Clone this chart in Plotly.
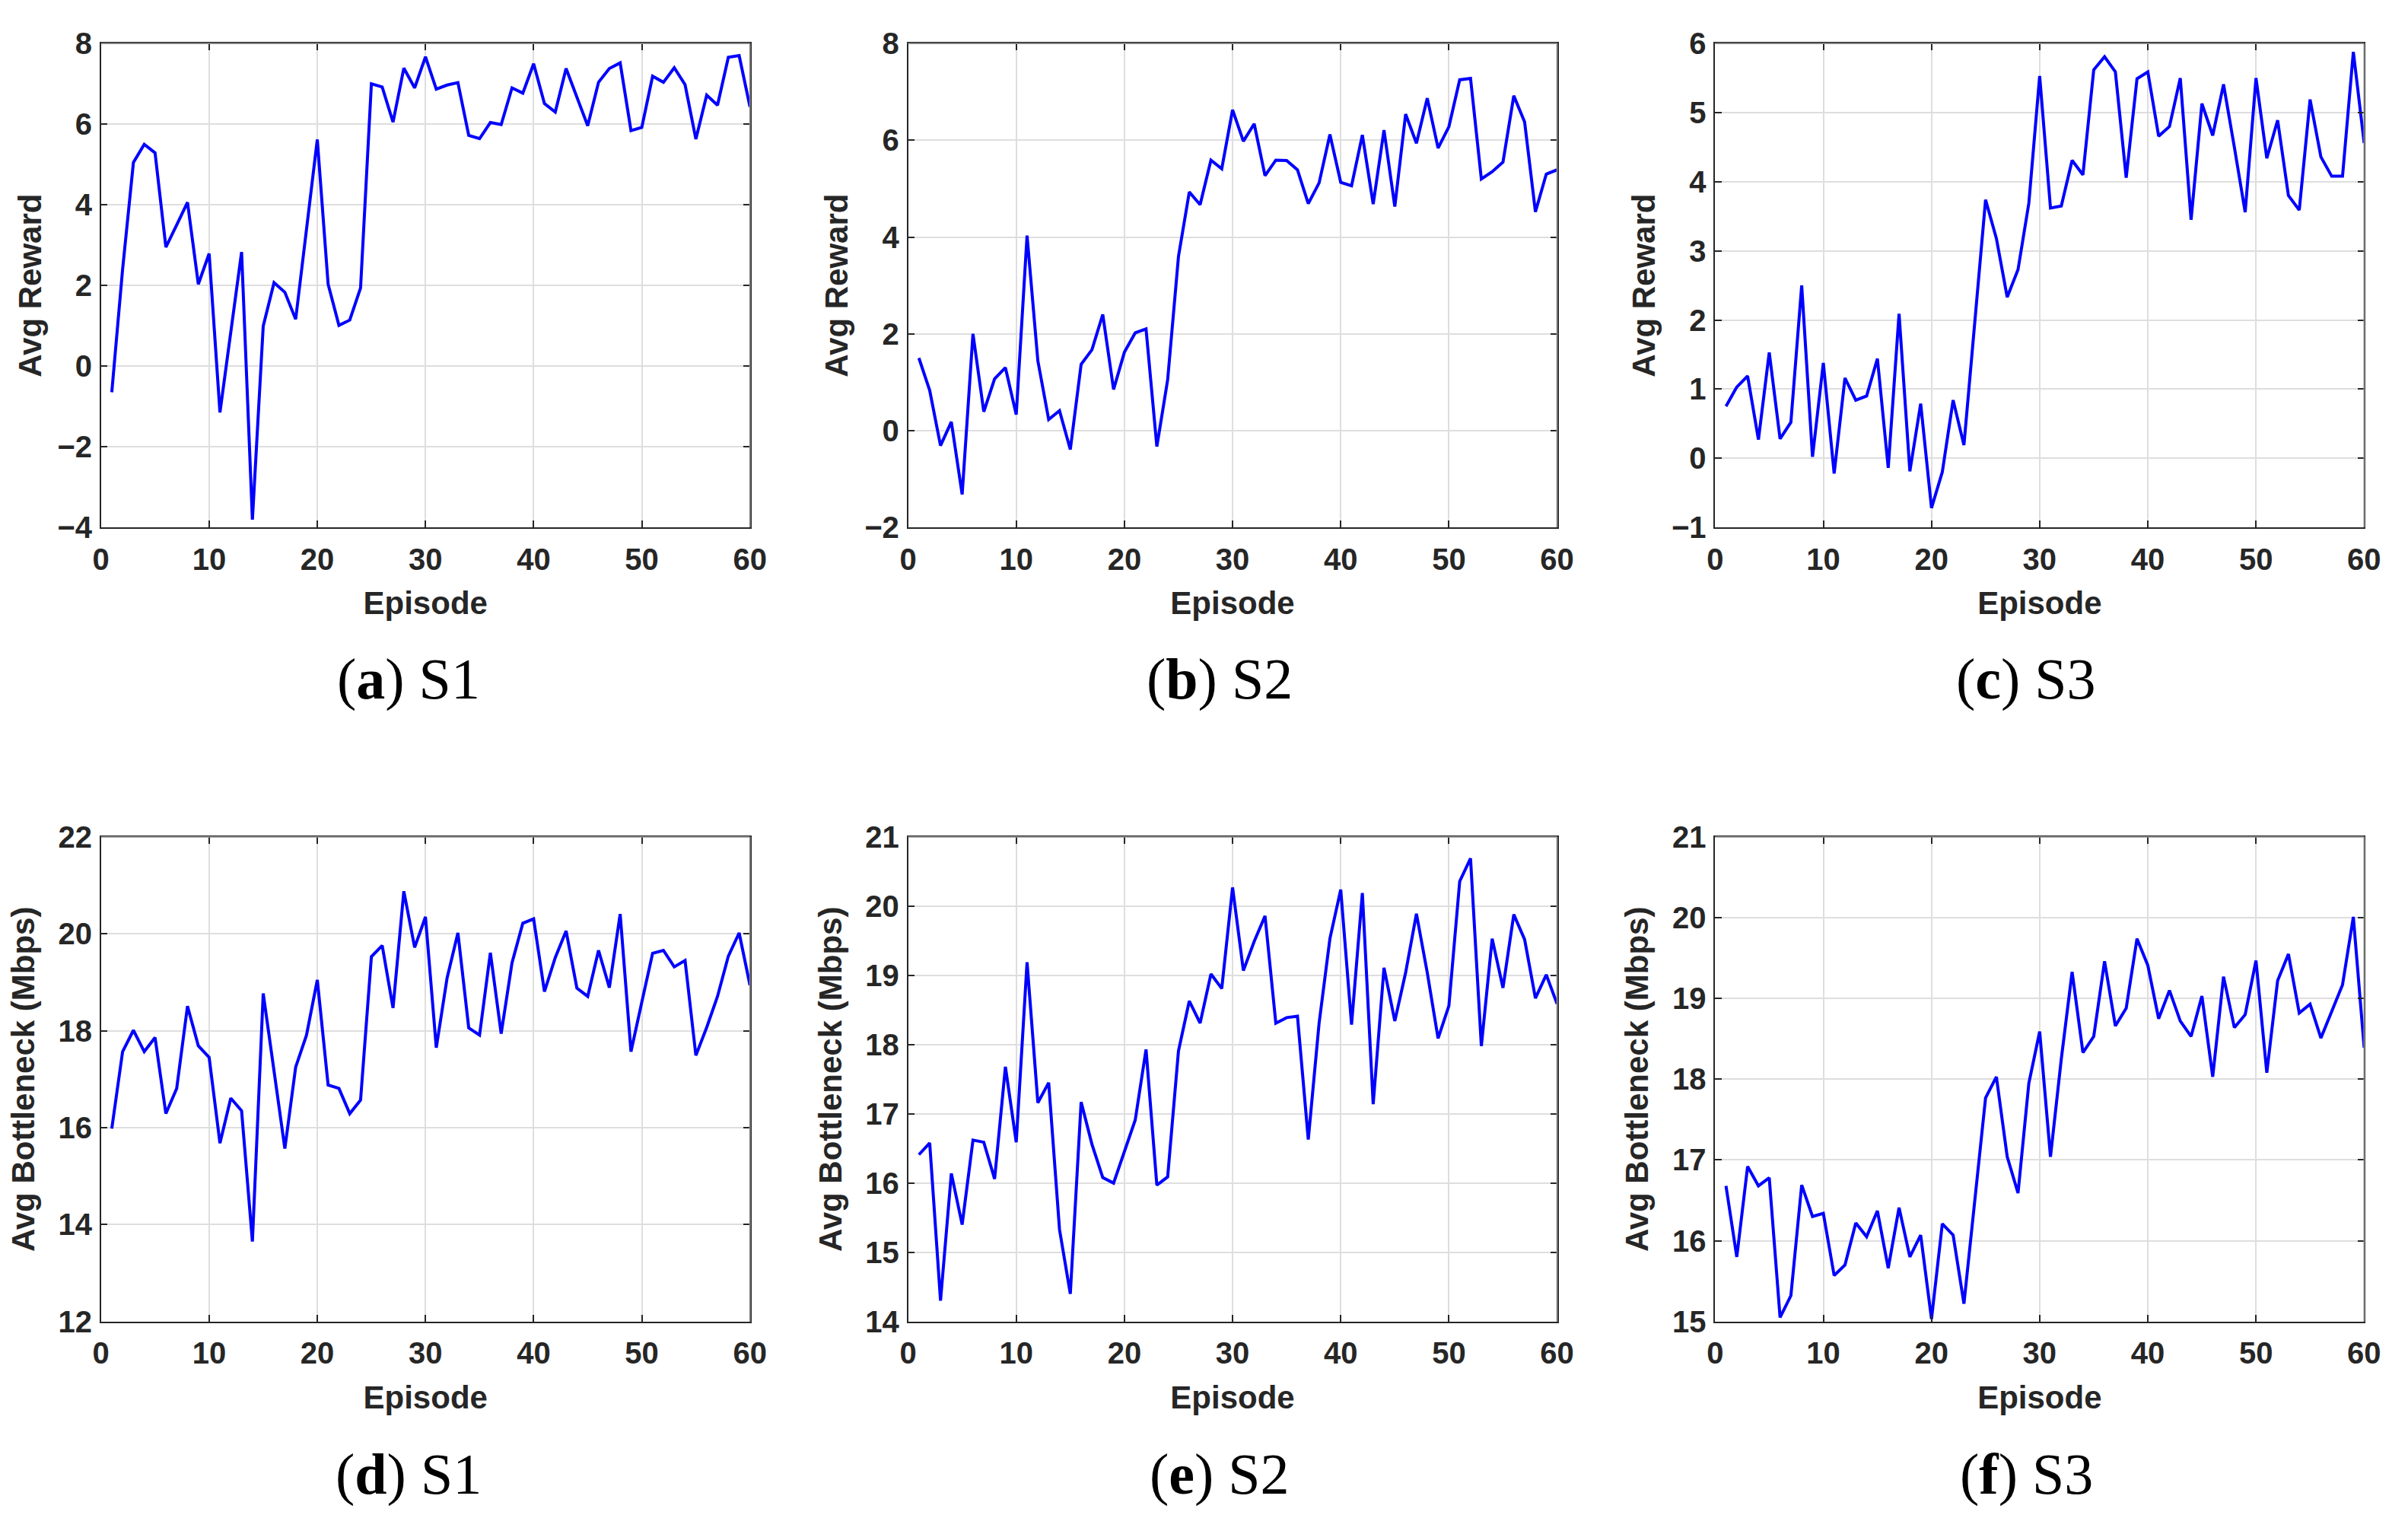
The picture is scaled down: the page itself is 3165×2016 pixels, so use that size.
import plotly.graph_objects as go

episodes = list(range(1, 61))

reward_s1 = [-0.65, 2.4, 5.05, 5.5, 5.29, 2.95, 3.5, 4.06, 2.03, 2.79,
             -1.15, 0.9, 2.83, -3.81, 0.99, 2.07, 1.83, 1.16, 3.4, 5.62,
             2.03, 1.01, 1.14, 1.94, 7.0, 6.92, 6.05, 7.39, 6.9, 7.67,
             6.87, 6.97, 7.03, 5.72, 5.64, 6.04, 5.99, 6.9, 6.77, 7.5,
             6.51, 6.3, 7.38, 6.69, 5.96, 7.04, 7.38, 7.52, 5.84, 5.92,
             7.19, 7.04, 7.4, 6.98, 5.63, 6.72, 6.47, 7.66, 7.7, 6.43]

reward_s2 = [1.5, 0.83, -0.31, 0.18, -1.32, 2.0, 0.39, 1.07, 1.3, 0.33,
             4.03, 1.44, 0.23, 0.41, -0.39, 1.37, 1.67, 2.4, 0.85, 1.62,
             2.02, 2.1, -0.33, 1.05, 3.6, 4.93, 4.67, 5.59, 5.41, 6.63,
             5.98, 6.34, 5.27, 5.59, 5.58, 5.39, 4.69, 5.12, 6.12, 5.13,
             5.06, 6.11, 4.68, 6.21, 4.63, 6.54, 5.94, 6.87, 5.84, 6.28,
             7.25, 7.28, 5.2, 5.35, 5.55, 6.92, 6.38, 4.52, 5.3, 5.39]

reward_s3 = [0.75, 1.03, 1.19, 0.27, 1.53, 0.28, 0.52, 2.5, 0.02, 1.38,
             -0.22, 1.16, 0.84, 0.9, 1.44, -0.14, 2.09, -0.19, 0.79, -0.72,
             -0.2, 0.84, 0.19, 2.0, 3.74, 3.18, 2.33, 2.73, 3.69, 5.53,
             3.62, 3.65, 4.31, 4.1, 5.62, 5.81, 5.59, 4.06, 5.49, 5.59,
             4.66, 4.8, 5.5, 3.45, 5.13, 4.67, 5.41, 4.5, 3.56, 5.5,
             4.34, 4.89, 3.8, 3.59, 5.19, 4.36, 4.08, 4.08, 5.88, 4.56]

bottleneck_s1 = [15.98, 17.57, 18.01, 17.57, 17.86, 16.29, 16.81, 18.51, 17.69, 17.45,
                 15.68, 16.61, 16.35, 13.65, 18.77, 17.2, 15.57, 17.25, 17.91, 19.05,
                 16.88, 16.81, 16.29, 16.57, 19.53, 19.76, 18.47, 20.88, 19.72, 20.35,
                 17.65, 19.09, 20.02, 18.06, 17.91, 19.61, 17.94, 19.4, 20.22, 20.31,
                 18.81, 19.51, 20.06, 18.88, 18.71, 19.66, 18.89, 20.41, 17.57, 18.59,
                 19.6, 19.66, 19.32, 19.45, 17.49, 18.07, 18.71, 19.54, 20.02, 18.94]

bottleneck_s2 = [16.41, 16.58, 14.3, 16.14, 15.4, 16.62, 16.59, 16.06, 17.68, 16.59,
                 19.19, 17.16, 17.45, 15.33, 14.4, 17.17, 16.56, 16.08, 16.0, 16.45,
                 16.91, 17.93, 15.97, 16.09, 17.91, 18.63, 18.31, 19.02, 18.81, 20.27,
                 19.07, 19.49, 19.86, 18.31, 18.39, 18.41, 16.63, 18.31, 19.53, 20.24,
                 18.29, 20.19, 17.14, 19.11, 18.34, 19.04, 19.89, 19.04, 18.09, 18.56,
                 20.36, 20.69, 17.98, 19.53, 18.82, 19.88, 19.52, 18.67, 19.01, 18.59]

bottleneck_s3 = [16.68, 15.8, 16.92, 16.68, 16.78, 15.05, 15.32, 16.69, 16.3, 16.34,
                 15.57, 15.7, 16.22, 16.05, 16.37, 15.66, 16.41, 15.8, 16.07, 15.03,
                 16.21, 16.07, 15.22, 16.5, 17.77, 18.03, 17.04, 16.59, 17.95, 18.59,
                 17.04, 18.25, 19.33, 18.33, 18.53, 19.46, 18.66, 18.88, 19.74, 19.41,
                 18.75, 19.1, 18.72, 18.53, 19.03, 18.03, 19.27, 18.64, 18.8, 19.47,
                 18.08, 19.22, 19.55, 18.82, 18.93, 18.51, 18.84, 19.17, 20.01, 18.39]

x_ticks = [0, 10, 20, 30, 40, 50, 60]
y_ranges = [[-4, 8], [-2, 8], [-1, 6], [12, 22], [14, 21], [15, 21]]
y_dticks = [2, 2, 1, 2, 1, 1]
y_titles = ["Avg Reward", "Avg Reward", "Avg Reward",
            "Avg Bottleneck (Mbps)", "Avg Bottleneck (Mbps)", "Avg Bottleneck (Mbps)"]
caption_letters = ["a", "b", "c", "d", "e", "f"]
caption_names = ["S1", "S2", "S3", "S1", "S2", "S3"]
series = [reward_s1, reward_s2, reward_s3, bottleneck_s1, bottleneck_s2, bottleneck_s3]

W, H = 3165, 2016
col_px = [(123, 985), (1195, 2057), (2267, 3129)]
row_px = [(36, 686), (1102, 1753)]
cap_x_px = [532, 1609, 2680]
cap_y_px = [890, 1958]
ytitle_standoff = [8, 8, 8, 18, 18, 18]

AX_COLOR = "#262626"
BOX_COLOR = "#8c8c8c"
GRID_COLOR = "#dedede"
tick_font = dict(family="Liberation Sans, Arial, sans-serif", size=40, color=AX_COLOR, weight="bold")
title_font = dict(family="Liberation Sans, Arial, sans-serif", size=42, color=AX_COLOR, weight="bold")

fig = go.Figure()
layout = {}
annotations = []
shapes = []
for i, ys in enumerate(series):
    r, c = divmod(i, 3)
    n = i + 1
    xa = "x" if n == 1 else f"x{n}"
    ya = "y" if n == 1 else f"y{n}"
    fig.add_trace(go.Scatter(x=episodes, y=ys, mode="lines",
                             line=dict(color="#0000ff", width=4),
                             xaxis=xa, yaxis=ya, showlegend=False))
    x0, x1 = col_px[c]
    y0, y1 = row_px[r]
    common = dict(showline=True, linecolor=AX_COLOR, linewidth=1.5, mirror="ticks",
                  ticks="inside", ticklen=9, tickwidth=1.5, tickcolor=AX_COLOR,
                  showgrid=True, gridcolor=GRID_COLOR, gridwidth=1.5,
                  zeroline=False, tickfont=tick_font)
    layout["xaxis" if n == 1 else f"xaxis{n}"] = dict(
        domain=[x0 / W, x1 / W], anchor=ya, range=[0, 60],
        tickvals=x_ticks, ticklabelstandoff=6,
        title=dict(text="Episode", font=title_font, standoff=22), **common)
    layout["yaxis" if n == 1 else f"yaxis{n}"] = dict(
        domain=[1 - y1 / H, 1 - y0 / H], anchor=xa, range=y_ranges[i],
        dtick=y_dticks[i], tick0=y_ranges[i][0], ticklabelstandoff=2,
        title=dict(text=y_titles[i], font=title_font, standoff=ytitle_standoff[i]), **common)
    # lighter top and right box edges, as in the original MATLAB figure
    shapes.append(dict(type="line", xref=f"{xa} domain", yref=f"{ya} domain",
                       x0=0, x1=1, y0=1, y1=1, layer="above",
                       line=dict(color=BOX_COLOR, width=1.8)))
    shapes.append(dict(type="line", xref=f"{xa} domain", yref=f"{ya} domain",
                       x0=1, x1=1, y0=0, y1=1, layer="above",
                       line=dict(color=BOX_COLOR, width=1.8)))
    annotations.append(dict(
        text=f"(<b>{caption_letters[i]}</b>) {caption_names[i]}",
        x=cap_x_px[c] / W, y=1 - cap_y_px[r] / H, xref="paper", yref="paper",
        xanchor="center", yanchor="middle", showarrow=False,
        font=dict(family="Liberation Serif, Times New Roman, serif", size=76, color="black")))

fig.update_layout(width=W, height=H, margin=dict(l=0, r=0, t=0, b=0),
                  paper_bgcolor="white", plot_bgcolor="white",
                  annotations=annotations, shapes=shapes, **layout)

fig.write_html("out.html", config={"displayModeBar": False},
               post_script="document.documentElement.style.margin='0';"
                           "document.body.style.margin='0';"
                           "document.documentElement.style.overflow='hidden';"
                           "document.body.style.overflow='hidden';")
